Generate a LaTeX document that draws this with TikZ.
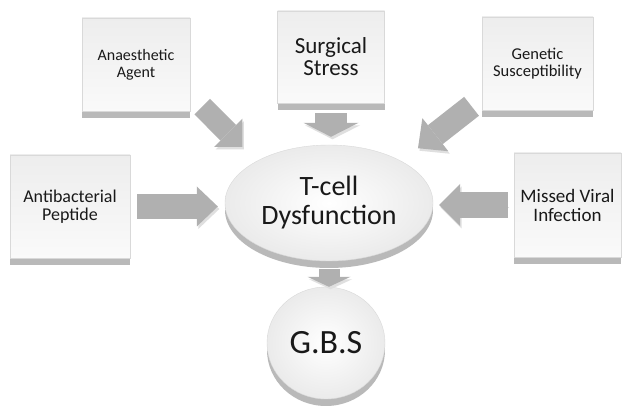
\documentclass[tikz,border=0pt]{standalone}
\usepackage{fontspec}
\setmainfont{Carlito}
\usepackage{tikz}
\usetikzlibrary{positioning}
\usetikzlibrary{calc}
\usetikzlibrary{arrows.meta}
\usetikzlibrary{shapes.geometric}

\begin{document}
\begin{tikzpicture}[x=1pt,y=-1pt,
  box/.style={rectangle,draw=gray!30,top color=gray!14,bottom color=gray!4,
    preaction={fill=gray!55,transform canvas={yshift=-7pt}},
    align=center,text=black!90,inner sep=1pt,font=\fontsize{18}{18}\selectfont},
  oval/.style={ellipse,draw=gray!30,inner color=white,outer color=gray!16,
    preaction={fill=gray!55,transform canvas={yshift=-7pt}},
    align=center,text=black!90,inner sep=0pt},
  blk/.style n args={3}{line width=#1,draw=gray!62,
    preaction={draw=gray!25,transform canvas={shift={(1.5pt,-2.5pt)}}},
    -{Triangle[width=#2,length=#3,line width=0pt]}}]
\useasboundingbox[fill=white] (0,0) rectangle (622,406);
% causes
\node[box,minimum width=108pt,minimum height=93pt,font=\fontsize{16}{17}\selectfont] (ana) at (136,64.5) {Anaesthetic\\Agent};
\node[box,minimum width=107pt,minimum height=92pt,font=\fontsize{23}{22}\selectfont] (surg) at (331,57) {Surgical\\Stress};
\node[box,minimum width=111pt,minimum height=93pt,font=\fontsize{16.5}{17}\selectfont] (gen) at (537.5,63.5) {Genetic\\Susceptibility};
\node[box,minimum width=120pt,minimum height=103pt] (anti) at (70,206.5) {Antibacterial\\Peptide};
\node[box,minimum width=107pt,minimum height=104pt,font=\fontsize{19}{19}\selectfont] (viral) at (567.5,205) {Missed Viral\\Infection};
% centre and outcome
\node[oval,minimum width=208pt,minimum height=116pt,font=\fontsize{28}{29}\selectfont] (tcell) at (329,203) {T-cell\\Dysfunction};
\node[oval,minimum width=118pt,minimum height=112pt,font=\fontsize{34}{34}\selectfont] (gbs) at (326,343) {G.B.S};
% block arrows
\draw[blk={22pt}{40pt}{20pt},shorten <=17pt,shorten >=20pt] (ana.-29) -- (tcell.150);
\draw[blk={32pt}{55pt}{14pt},shorten <=10pt,shorten >=8pt] (surg.south) -- (surg.south |- tcell.north);
\draw[blk={24pt}{42pt}{22pt},shorten <=13pt,shorten >=21pt] (gen.212) -- (tcell.30);
\draw[blk={25pt}{40pt}{21pt},shorten <=7pt,shorten >=7pt] (anti.east) -- (anti.east -| tcell.west);
\draw[blk={26pt}{42pt}{21pt},shorten <=6pt,shorten >=6pt] (viral.west) -- (viral.west -| tcell.east);
\draw[blk={21pt}{43pt}{10pt},shorten <=8pt] (tcell.south) -- (tcell.south |- gbs.north);
\end{tikzpicture}
\end{document}
